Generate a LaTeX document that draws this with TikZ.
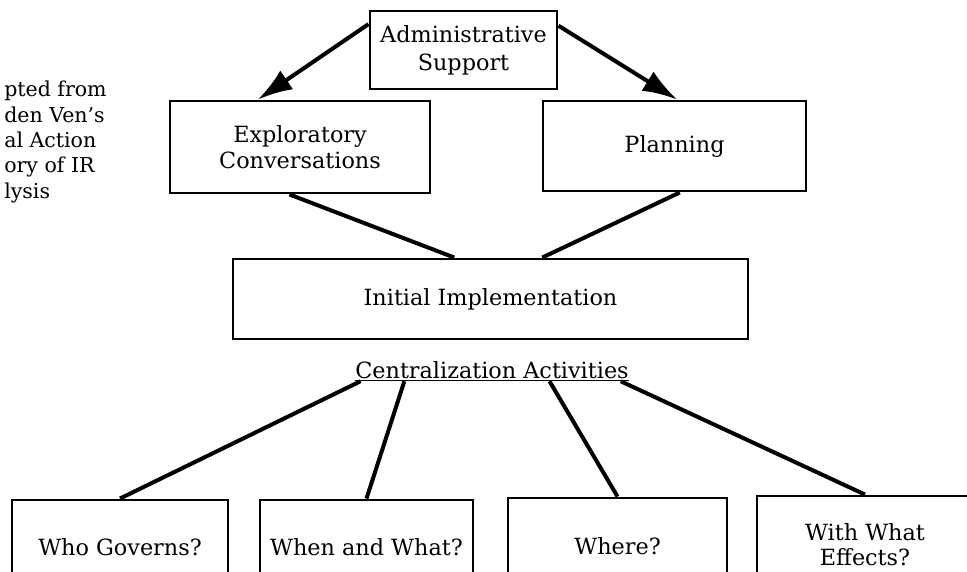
\documentclass[tikz,border=0pt]{standalone}
\usepackage{fontspec}
\setmainfont{DejaVu Serif}
\usetikzlibrary{arrows.meta,calc}

\tikzset{
  box/.style={draw, line width=2.2pt, inner sep=0pt, align=center,
    font=\fontsize{16.75}{19.5}\selectfont},
  link/.style={line width=3pt},
  bigarrow/.style={link, -{Latex[length=26pt,width=17pt]}},
}

\begin{document}
\begin{tikzpicture}[x=0.75pt,y=0.75pt,yscale=-1,xscale=1]
\useasboundingbox (0,0) rectangle (967,571);
\clip (0,0) rectangle (967,571);

%Note at the left margin
\node [anchor=north west, inner sep=0pt, align=left, font=\fontsize{15.4}{19}\selectfont] (note) at (4,81)
  {pted from\\ den Ven's\\ al Action\\ ory of IR\\ lysis};

%Top boxes
\node [box, minimum width=140.25pt, minimum height=58.5pt, font=\fontsize{16.75}{21}\selectfont] (admin) at (463.5,50) {Administrative\\ Support};
\node [box, minimum width=195pt, minimum height=69pt] (explor) at (300,147) {Exploratory\\ Conversations};
\node [box, minimum width=197.25pt, minimum height=67.5pt] (plan) at (674.5,146) {Planning};
\node [box, minimum width=386.25pt, minimum height=60pt] (init) at (490.5,299) {Initial Implementation};

%Heading of the activities
\node [anchor=base, inner sep=0pt, font=\fontsize{16.75}{19.5}\selectfont] (central) at (492,378) {\underline{Centralization Activities}};

%Bottom boxes
\node [box, minimum width=162pt, minimum height=71.25pt] (who) at (120,547.5) {Who Governs?};
\node [box, minimum width=159.75pt, minimum height=71.25pt] (when) at (366.5,547.5) {When and What?};
\node [box, minimum width=164.25pt, minimum height=72.75pt] (where) at (617.5,546.5) {Where?};
\node [box, minimum width=162pt, minimum height=72.75pt, font=\fontsize{16.75}{18.5}\selectfont] (effects) at (865,544.5) {With What\\ Effects?};

%Arrows
\draw [bigarrow] ($(admin.north west)!0.18!(admin.south west)$) -- ($(explor.north west)!0.34!(explor.north east)$);
\draw [bigarrow] ($(admin.north east)!0.2!(admin.south east)$) -- ($(plan.north west)!0.51!(plan.north east)$);

%Straight Lines
\draw [link] ($(explor.south west)!0.46!(explor.south east)$) -- ($(init.north west)!0.43!(init.north east)$);
\draw [link] ($(plan.south west)!0.52!(plan.south east)$) -- ($(init.north west)!0.6!(init.north east)$);

\draw [link] ($(central.south west)!0.02!(central.south east)$) -- (who.north);
\draw [link] ($(central.south west)!0.18!(central.south east)$) -- (when.north);
\draw [link] ($(central.south west)!0.71!(central.south east)$) -- (where.north);
\draw [link] ($(central.south west)!0.97!(central.south east)$) -- (effects.north);

\end{tikzpicture}
\end{document}
